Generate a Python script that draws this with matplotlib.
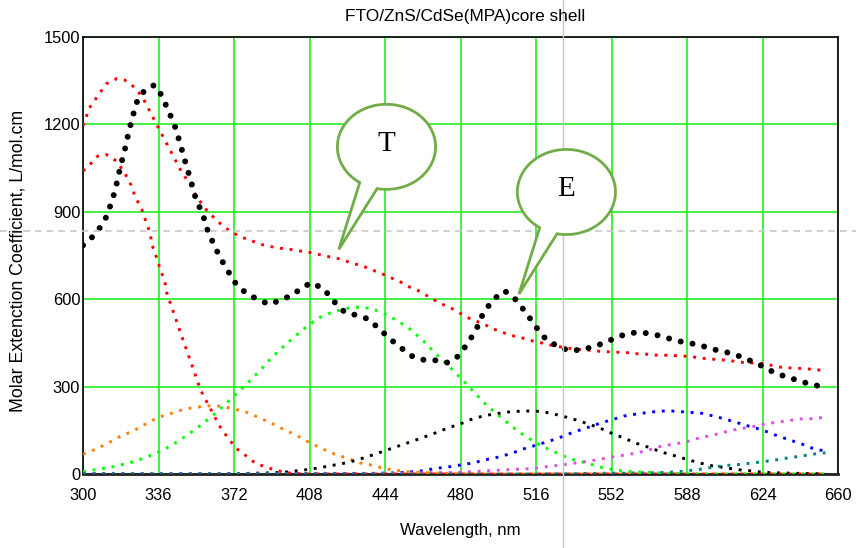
import numpy as np
import matplotlib
matplotlib.use("Agg")
from matplotlib import pyplot as plt
from matplotlib import font_manager
from matplotlib.patches import Polygon

# measured spectrum (big black dots)
wl_meas = [300, 304, 308, 311, 314, 316, 318, 320, 322, 324, 326, 328, 330, 334, 336, 338, 341, 344,
           346, 348, 350, 352, 354, 357, 359, 362, 365, 369, 373, 378, 384, 389, 395, 400, 404, 409,
           415, 419, 425, 430, 436, 441, 447, 452, 458, 463, 469, 474, 479, 484, 488, 491, 496, 501,
           506, 511, 516, 521, 527, 532, 538, 543, 549, 554, 560, 565, 571, 576, 582, 587, 593, 599,
           604, 610, 615, 621, 626, 631, 637, 642, 648, 654]
meas = [785, 810, 845, 881, 940, 995, 1060, 1115, 1180, 1235, 1284, 1305, 1320, 1335, 1320, 1290,
        1243, 1190, 1142, 1091, 1041, 991, 939, 895, 844, 794, 748, 698, 652, 619, 597, 582, 600,
        614, 638, 657, 634, 597, 554, 546, 532, 500, 460, 431, 399, 391, 390, 382, 405, 454, 504,
        555, 601, 629, 601, 556, 505, 460, 436, 423, 427, 436, 451, 468, 483, 486, 482, 472, 460,
        451, 445, 431, 422, 413, 398, 381, 362, 343, 331, 317, 308, 294]

# total fit (upper red)
wl_total = [300, 303, 307, 311, 316, 320, 325, 329, 332, 335, 338, 341, 344, 347, 351, 354, 358, 363,
            367, 372, 376, 381, 385, 390, 394, 399, 406, 410, 415, 419, 424, 428, 433, 437, 442, 446,
            451, 455, 460, 464, 469, 473, 478, 482, 486, 491, 495, 500, 504, 509, 513, 518, 522, 527,
            531, 536, 540, 545, 549, 554, 558, 563, 568, 572, 576, 581, 586, 590, 594, 599, 604, 608,
            613, 617, 622, 626, 631, 635, 640, 644, 649, 654]
total = [1195, 1256, 1297, 1339, 1357, 1352, 1325, 1285, 1243, 1201, 1160, 1119, 1078, 1037, 995,
         954, 913, 876, 849, 826, 812, 799, 788, 780, 775, 771, 762, 759, 748, 744, 735, 724, 715,
         703, 689, 676, 661, 644, 629, 612, 591, 577, 561, 541, 529, 515, 500, 486, 476, 468, 459,
         451, 444, 437, 432, 428, 426, 422, 420, 418, 418, 413, 412, 408, 408, 407, 405, 403, 398,
         395, 392, 390, 384, 382, 380, 377, 368, 365, 363, 362, 358, 355]

# first band (lower red)
wl_band1 = [300, 303, 307, 311, 316, 320, 323, 325, 328, 330, 332, 333, 335, 337, 339, 340, 342, 344,
            346, 348, 350, 352, 354, 356, 359, 362, 365, 369, 373, 378, 382, 387, 392, 396, 400, 406,
            450, 500, 550, 600, 654]
band1 = [1040, 1060, 1091, 1097, 1074, 1032, 991, 950, 909, 867, 826, 785, 744, 700, 661, 620, 579,
         537, 495, 454, 413, 372, 331, 289, 248, 207, 166, 125, 88, 61, 38, 24, 13, 6, 2, 0,
         0, 0, 0, 0, 0]

# other gaussian bands, 6 nm grid
wl = [300, 306, 312, 318, 324, 330, 336, 342, 348, 354, 360, 366, 372, 378, 384, 390, 396, 402, 408,
      414, 420, 426, 432, 438, 444, 450, 456, 462, 468, 474, 480, 486, 492, 498, 504, 510, 516, 522,
      528, 534, 540, 546, 552, 558, 564, 570, 576, 582, 588, 594, 600, 606, 612, 618, 624, 630, 636,
      642, 648, 654]
band_orange = [68, 85, 106, 130, 148, 172, 195, 208, 222, 229, 234, 233, 223, 212, 193, 174, 152, 132,
               108, 87, 68, 54, 38, 30, 18, 12, 7, 5, 3, 2, 1, 0, 0, 0, 0, 0, 0, 0, 0, 0,
               0, 0, 0, 0, 0, 0, 0, 0, 0, 0, 0, 0, 0, 0, 0, 0, 0, 0, 0, 0]
band_green = [9, 15, 21, 31, 42, 57, 75, 97, 125, 156, 189, 227, 268, 308, 352, 400, 440, 478, 514,
              542, 558, 569, 573, 567, 549, 526, 497, 459, 414, 374, 330, 285, 239, 202, 166, 134,
              107, 85, 65, 49, 38, 25, 16, 10, 7, 5, 3, 2, 1, 0, 0, 0, 0, 0, 0, 0, 0, 0, 0, 0]
band_black = [0, 0, 0, 0, 0, 0, 0, 0, 0, 0, 0, 0, 1, 2, 3, 4, 6, 11, 16, 23, 31, 39, 51, 65, 80, 95,
              110, 125, 141, 158, 172, 190, 201, 208, 214, 216, 216, 210, 200, 188, 174, 159, 140,
              123, 105, 91, 75, 63, 50, 38, 28, 22, 15, 11, 6, 4, 3, 2, 1, 1]
band_blue = [0, 0, 0, 0, 0, 0, 0, 0, 0, 0, 0, 0, 0, 0, 0, 1, 1, 1, 1, 1, 2, 2, 2, 2, 3, 4, 7, 11, 19,
             24, 31, 38, 49, 58, 70, 86, 99, 112, 127, 144, 158, 173, 186, 199, 206, 212, 216, 216,
             212, 210, 200, 189, 176, 163, 151, 134, 119, 105, 88, 78]
band_magenta = [0, 0, 0, 0, 0, 0, 0, 0, 0, 0, 0, 0, 0, 0, 0, 0, 0, 0, 0, 0, 0, 0, 0, 1, 2, 2, 3, 4, 5,
                5, 6, 8, 11, 13, 15, 17, 20, 26, 31, 37, 43, 50, 58, 65, 72, 83, 96, 103, 111, 124,
                133, 144, 154, 160, 170, 177, 183, 189, 190, 195]
band_teal = [0, 0, 0, 0, 0, 0, 0, 0, 0, 0, 0, 0, 0, 0, 0, 0, 0, 0, 0, 0, 0, 0, 0, 0, 0, 0, 0, 0, 0,
             0, 0, 0, 0, 0, 0, 0, 0, 1, 1, 1, 2, 2, 3, 3, 4, 4, 5, 7, 11, 16, 23, 29, 32, 37, 42, 48,
             55, 61, 68, 73]

# pick a narrow sans if there is one, else plain Liberation Sans a bit smaller
have = {f.name for f in font_manager.fontManager.ttflist}
if "Liberation Sans Narrow" in have:
    narrow, k = "Liberation Sans Narrow", 1.0
elif "DejaVu Sans Condensed" in have:
    narrow, k = "DejaVu Sans Condensed", 0.92
else:
    narrow, k = "Liberation Sans", 0.9

fig = plt.figure(figsize=(8.56, 5.48), dpi=100)
ax = fig.add_axes([83 / 856, 1 - 474 / 548, 755 / 856, 437 / 548])

sq = dict(lw=2.1, linestyle=(0, (1, 2.3)), dash_capstyle="butt")
ax.plot(wl, band_orange, color="#ff8000", zorder=3, **sq)
ax.plot(wl, band_green, color="#00ff00", zorder=3, **sq)
ax.plot(wl, band_black, color="black", zorder=3, **sq)
ax.plot(wl, band_blue, color="#0000ff", zorder=3, **sq)
ax.plot(wl, band_magenta, color="#e050e0", zorder=3, **sq)
ax.plot(wl, band_teal, color="#008080", zorder=3, **sq)
ax.plot(wl_band1, band1, color="#ff0000", zorder=3, **sq)
ax.plot(wl_total, total, color="#ff0000", zorder=3, **sq)
ax.plot(wl_meas, meas, color="black", lw=4.3, linestyle=(0, (0.01, 2.0)),
        dash_capstyle="round", zorder=4)

ax.set_xlim(300, 660)
ax.set_ylim(0, 1500)
ax.set_xticks(np.arange(300, 661, 36))
ax.set_yticks(np.arange(0, 1501, 300))
ax.grid(True, color="#22ee22", lw=1.2)
ax.set_axisbelow(True)
ax.tick_params(length=0, labelsize=13.2 * k)
ax.tick_params(axis="x", pad=10)
ax.tick_params(axis="y", pad=2)
for lab in ax.get_xticklabels() + ax.get_yticklabels():
    lab.set_family(narrow)
for s in ax.spines.values():
    s.set_linewidth(1.2)
ax.spines["bottom"].set_linewidth(2.0)
ax.spines["bottom"].set_color("#222222")

fig.text(465 / 856, 1 - 16 / 548, "FTO/ZnS/CdSe(MPA)core shell", family=narrow,
         fontsize=13.8 * k, ha="center", va="center")
fig.text(460 / 856, 1 - 530 / 548, "Wavelength, nm", family=narrow, fontsize=13.4 * k,
         ha="center", va="center")
fig.text(18 / 856, 1 - 261 / 548, "Molar Extenction Coefficient, L/mol.cm",
         family="Liberation Sans", fontsize=12.8, rotation=90, ha="center", va="center")

# screen cursor lines
ax.plot([0, 1], [1 - 231 / 548] * 2, transform=fig.transFigure, clip_on=False,
        color="#c8c8c8", lw=1.2, linestyle=(0, (4, 3)), zorder=5)
ax.plot([563 / 856] * 2, [0, 1], transform=fig.transFigure, clip_on=False,
        color="#c4c4c4", lw=1.0, zorder=5)


def bubble(cx, cy, tip, label):
    rx, ry = 23.4, 146
    t = np.radians(np.linspace(-123, -101 - 360, 160))
    xs = list(cx + rx * np.cos(t)) + [tip[0]]
    ys = list(cy + ry * np.sin(t)) + [tip[1]]
    ax.add_patch(Polygon(np.column_stack([xs, ys]), closed=True, fc="white",
                         ec="#70ad47", lw=2.0, zorder=6, clip_on=False))
    ax.text(cx, cy + 10, label, family="Liberation Serif", fontsize=21,
            ha="center", va="center", zorder=7)


bubble(444.7, 1123, (422, 771), "T")
bubble(530.5, 968, (507.9, 618), "E")

fig.savefig("out.png", dpi=100)
